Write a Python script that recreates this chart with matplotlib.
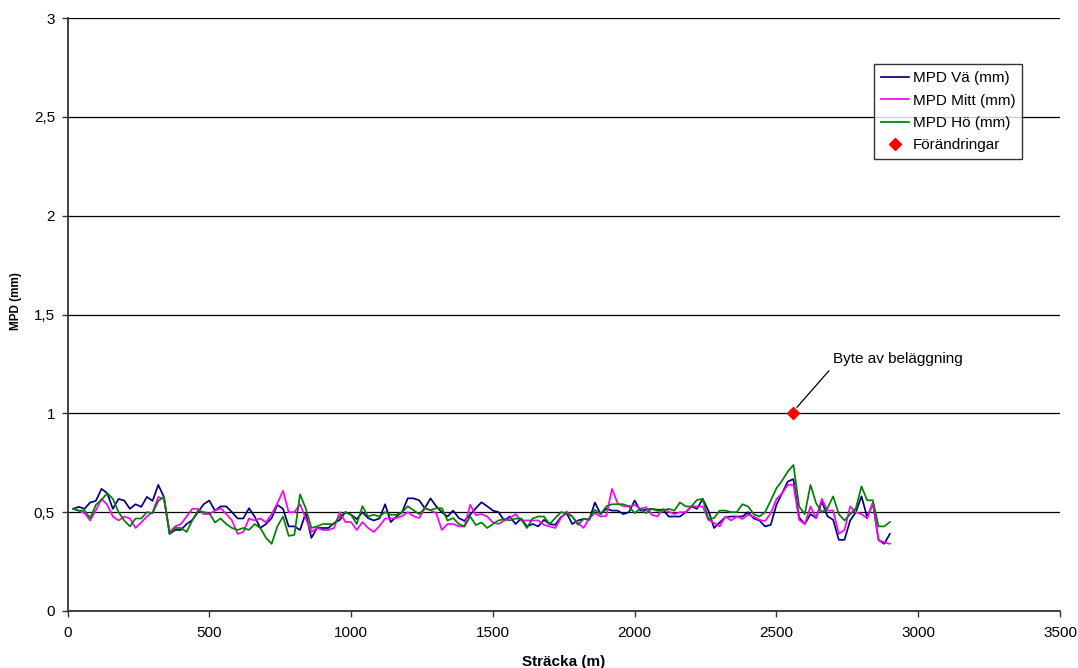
import numpy as np
import matplotlib
matplotlib.use("Agg")
import matplotlib.pyplot as plt
from matplotlib.ticker import FuncFormatter

plt.rcParams['font.family'] = ['Liberation Sans', 'DejaVu Sans']

# Distance along the road (m), one reading every 20 m
stracka = np.arange(20, 2901, 20)

mpd_va = [
    0.517, 0.527, 0.517, 0.549, 0.557, 0.618, 0.596, 0.517, 0.567, 0.559,
    0.517, 0.540, 0.527, 0.577, 0.557, 0.638, 0.577, 0.390, 0.410, 0.410,
    0.440, 0.460, 0.500, 0.540, 0.559, 0.508, 0.529, 0.529, 0.500, 0.468,
    0.468, 0.520, 0.478, 0.420, 0.440, 0.470, 0.537, 0.517, 0.428, 0.428,
    0.410, 0.495, 0.370, 0.420, 0.420, 0.420, 0.445, 0.460, 0.500, 0.487,
    0.465, 0.500, 0.470, 0.458, 0.468, 0.540, 0.450, 0.478, 0.500, 0.570,
    0.570, 0.560, 0.520, 0.570, 0.530, 0.500, 0.478, 0.508, 0.470, 0.456,
    0.487, 0.520, 0.550, 0.530, 0.508, 0.500, 0.458, 0.478, 0.440, 0.468,
    0.428, 0.440, 0.428, 0.461, 0.440, 0.436, 0.475, 0.495, 0.440, 0.458,
    0.466, 0.461, 0.549, 0.490, 0.517, 0.508, 0.508, 0.490, 0.500, 0.559,
    0.508, 0.512, 0.517, 0.512, 0.512, 0.478, 0.478, 0.478, 0.500, 0.529,
    0.517, 0.567, 0.508, 0.420, 0.448, 0.475, 0.478, 0.478, 0.478, 0.500,
    0.468, 0.458, 0.428, 0.436, 0.537, 0.596, 0.655, 0.667, 0.473, 0.440,
    0.490, 0.470, 0.554, 0.480, 0.461, 0.360, 0.360, 0.458, 0.500, 0.580,
    0.475, 0.545, 0.360, 0.340, 0.390,
]

mpd_mitt = [
    0.517, 0.507, 0.495, 0.458, 0.510, 0.567, 0.537, 0.478, 0.458, 0.478,
    0.468, 0.420, 0.448, 0.478, 0.500, 0.577, 0.567, 0.400, 0.428, 0.440,
    0.478, 0.517, 0.517, 0.490, 0.490, 0.508, 0.520, 0.490, 0.458, 0.390,
    0.400, 0.468, 0.458, 0.468, 0.448, 0.490, 0.545, 0.608, 0.500, 0.500,
    0.540, 0.468, 0.400, 0.420, 0.410, 0.410, 0.420, 0.500, 0.450, 0.450,
    0.410, 0.450, 0.420, 0.400, 0.430, 0.468, 0.468, 0.470, 0.480, 0.500,
    0.480, 0.470, 0.520, 0.510, 0.495, 0.410, 0.440, 0.440, 0.428, 0.428,
    0.537, 0.485, 0.490, 0.478, 0.448, 0.440, 0.458, 0.470, 0.490, 0.458,
    0.458, 0.458, 0.458, 0.436, 0.428, 0.420, 0.470, 0.503, 0.478, 0.445,
    0.420, 0.470, 0.495, 0.478, 0.481, 0.618, 0.545, 0.529, 0.529, 0.537,
    0.517, 0.525, 0.487, 0.478, 0.517, 0.503, 0.490, 0.500, 0.500, 0.529,
    0.529, 0.529, 0.461, 0.445, 0.428, 0.478, 0.458, 0.478, 0.466, 0.487,
    0.478, 0.461, 0.455, 0.495, 0.566, 0.596, 0.638, 0.638, 0.461, 0.440,
    0.529, 0.468, 0.567, 0.508, 0.508, 0.390, 0.410, 0.529, 0.500, 0.490,
    0.468, 0.549, 0.360, 0.347, 0.340,
]

mpd_ho = [
    0.517, 0.508, 0.508, 0.470, 0.537, 0.562, 0.596, 0.567, 0.500, 0.458,
    0.428, 0.468, 0.468, 0.500, 0.495, 0.557, 0.577, 0.390, 0.420, 0.420,
    0.400, 0.458, 0.508, 0.500, 0.495, 0.448, 0.468, 0.440, 0.420, 0.410,
    0.420, 0.410, 0.440, 0.420, 0.370, 0.340, 0.428, 0.478, 0.380, 0.385,
    0.590, 0.520, 0.420, 0.428, 0.440, 0.440, 0.440, 0.478, 0.500, 0.487,
    0.440, 0.530, 0.478, 0.487, 0.478, 0.500, 0.487, 0.487, 0.500, 0.530,
    0.510, 0.490, 0.520, 0.510, 0.520, 0.520, 0.458, 0.470, 0.440, 0.428,
    0.478, 0.435, 0.448, 0.420, 0.440, 0.458, 0.465, 0.458, 0.468, 0.465,
    0.420, 0.468, 0.478, 0.478, 0.440, 0.470, 0.500, 0.495, 0.478, 0.436,
    0.465, 0.465, 0.512, 0.490, 0.529, 0.540, 0.540, 0.540, 0.529, 0.495,
    0.517, 0.495, 0.517, 0.507, 0.508, 0.517, 0.508, 0.549, 0.529, 0.529,
    0.562, 0.567, 0.465, 0.470, 0.508, 0.508, 0.500, 0.500, 0.540, 0.529,
    0.490, 0.478, 0.500, 0.559, 0.621, 0.660, 0.705, 0.739, 0.529, 0.490,
    0.638, 0.545, 0.500, 0.520, 0.580, 0.490, 0.458, 0.490, 0.520, 0.630,
    0.560, 0.560, 0.428, 0.428, 0.450,
]

# Point where the road surface changes
forandring_x = [2560]
forandring_y = [1.0]
forandring_text = "Byte av beläggning"

x_ticks = [0, 500, 1000, 1500, 2000, 2500, 3000, 3500]
y_ticks = [0, 0.5, 1, 1.5, 2, 2.5, 3]

fig = plt.figure(figsize=(10.78, 6.68), dpi=100)
ax = fig.add_axes([67.5 / 1078, 1 - 611 / 668, 992.5 / 1078, 593 / 668])

ax.plot(stracka, mpd_va, color='#000080', lw=1.25, label='MPD Vä (mm)', zorder=3)
ax.plot(stracka, mpd_mitt, color='#FF00FF', lw=1.25, label='MPD Mitt (mm)', zorder=3)
ax.plot(stracka, mpd_ho, color='#008000', lw=1.25, label='MPD Hö (mm)', zorder=3)
ax.plot(forandring_x, forandring_y, 'D', color='#FF0000', ms=6.5, ls='none',
        label='Förändringar', zorder=4)

ax.annotate(forandring_text, xy=(forandring_x[0] + 12, forandring_y[0] + 0.03),
            xytext=(2700, 1.255), fontsize=11, ha='left', va='baseline',
            arrowprops=dict(arrowstyle='-', color='black', lw=0.9,
                            relpos=(0.0, 0.0), shrinkA=2, shrinkB=0))

ax.set_xlim(0, 3500)
ax.set_ylim(0, 3)
ax.set_xticks(x_ticks)
ax.set_yticks(y_ticks)
ax.yaxis.set_major_formatter(FuncFormatter(
    lambda v, p: ('%g' % v).replace('.', ',')))
ax.tick_params(axis='both', direction='out', length=4, width=1,
               labelsize=11, color='#333333')
ax.tick_params(axis='x', pad=7)
ax.tick_params(axis='y', pad=5)

ax.yaxis.grid(True, color='black', lw=0.9, zorder=0)
ax.set_axisbelow(True)
for side in ('top', 'right'):
    ax.spines[side].set_visible(False)
for side in ('left', 'bottom'):
    ax.spines[side].set_color('#333333')
    ax.spines[side].set_linewidth(1.3)

ax.set_xlabel('Sträcka (m)', fontsize=11, fontweight='bold')
ax.xaxis.set_label_coords(0.5, -0.0745, transform=ax.transAxes)
ax.xaxis.label.set_va('top')
ax.set_ylabel('MPD (mm)', fontsize=8.5, fontweight='bold')
ax.yaxis.set_label_coords(-0.0515, 0.522, transform=ax.transAxes)
ax.yaxis.label.set_va('center')

leg = ax.legend(loc='upper left', bbox_to_anchor=(0.8125, 0.922), fontsize=11,
                frameon=True, fancybox=False, edgecolor='black',
                handlelength=1.85, handletextpad=0.25, borderpad=0.45,
                labelspacing=0.55, borderaxespad=0)
leg.get_frame().set_linewidth(1.0)

fig.savefig('out.png', dpi=100, facecolor='white')
